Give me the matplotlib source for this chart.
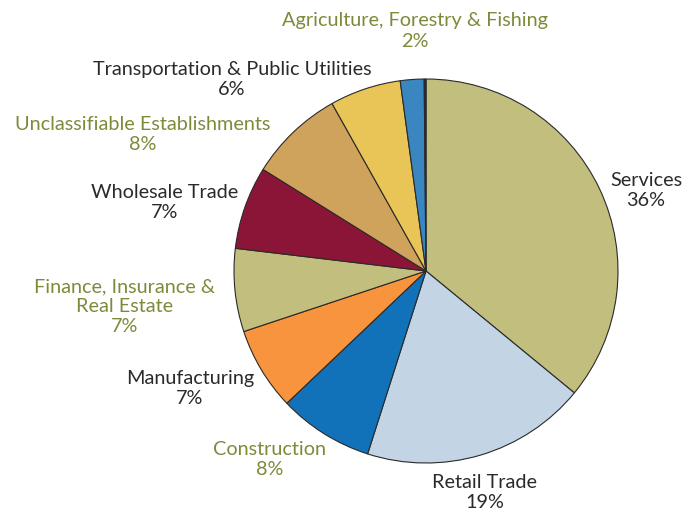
import matplotlib.pyplot as plt

# Share of establishments by industry
industries = ['Services', 'Retail Trade', 'Construction', 'Manufacturing',
              'Finance, Insurance &\nReal Estate', 'Wholesale Trade',
              'Unclassifiable Establishments', 'Transportation & Public Utilities',
              'Agriculture, Forestry & Fishing', '']
shares = [36, 19, 8, 7, 7, 7, 8, 6, 2, 0.15]
colors = ['#C2BE7E', '#C3D4E4', '#1172BA', '#F7943D', '#C2BE7E',
          '#8A1537', '#D0A35C', '#E9C456', '#3A86C0', '#1F2A44']
label_colors = ['#2A2A2A', '#2A2A2A', '#7E8A3A', '#2A2A2A', '#7E8A3A',
                '#2A2A2A', '#7E8A3A', '#2A2A2A', '#7E8A3A', '#2A2A2A']

# label block centres (pie radius = 1, centre at origin)
label_xy = [(1.146, 0.419), (0.307, -1.156), (-0.8125, -0.982), (-1.229, -0.612),
            (-1.568, -0.185), (-1.36, 0.359), (-1.474, 0.713), (-1.01, 0.997),
            (-0.057, 1.25), None]

plt.rcParams['font.family'] = ['Lato', 'DejaVu Sans']

fig = plt.figure(figsize=(6.99, 5.14), dpi=100)
ax = fig.add_axes([0, 0, 1, 1])

ax.pie(shares, colors=colors, startangle=90, counterclock=False, radius=1,
       wedgeprops=dict(edgecolor='#2A2A2A', linewidth=0.8))

for name, val, c, xy in zip(industries, shares, label_colors, label_xy):
    if xy is None:
        continue
    ax.text(xy[0], xy[1], f'{name}\n{val:g}%', color=c, fontsize=14.3,
            ha='center', va='center', linespacing=1.22)

r = 192
ax.set_xlim(-426 / r, (699 - 426) / r)
ax.set_ylim(-(514 - 271) / r, 271 / r)
ax.set_aspect('equal')
ax.axis('off')

fig.savefig('out.png', dpi=100)
